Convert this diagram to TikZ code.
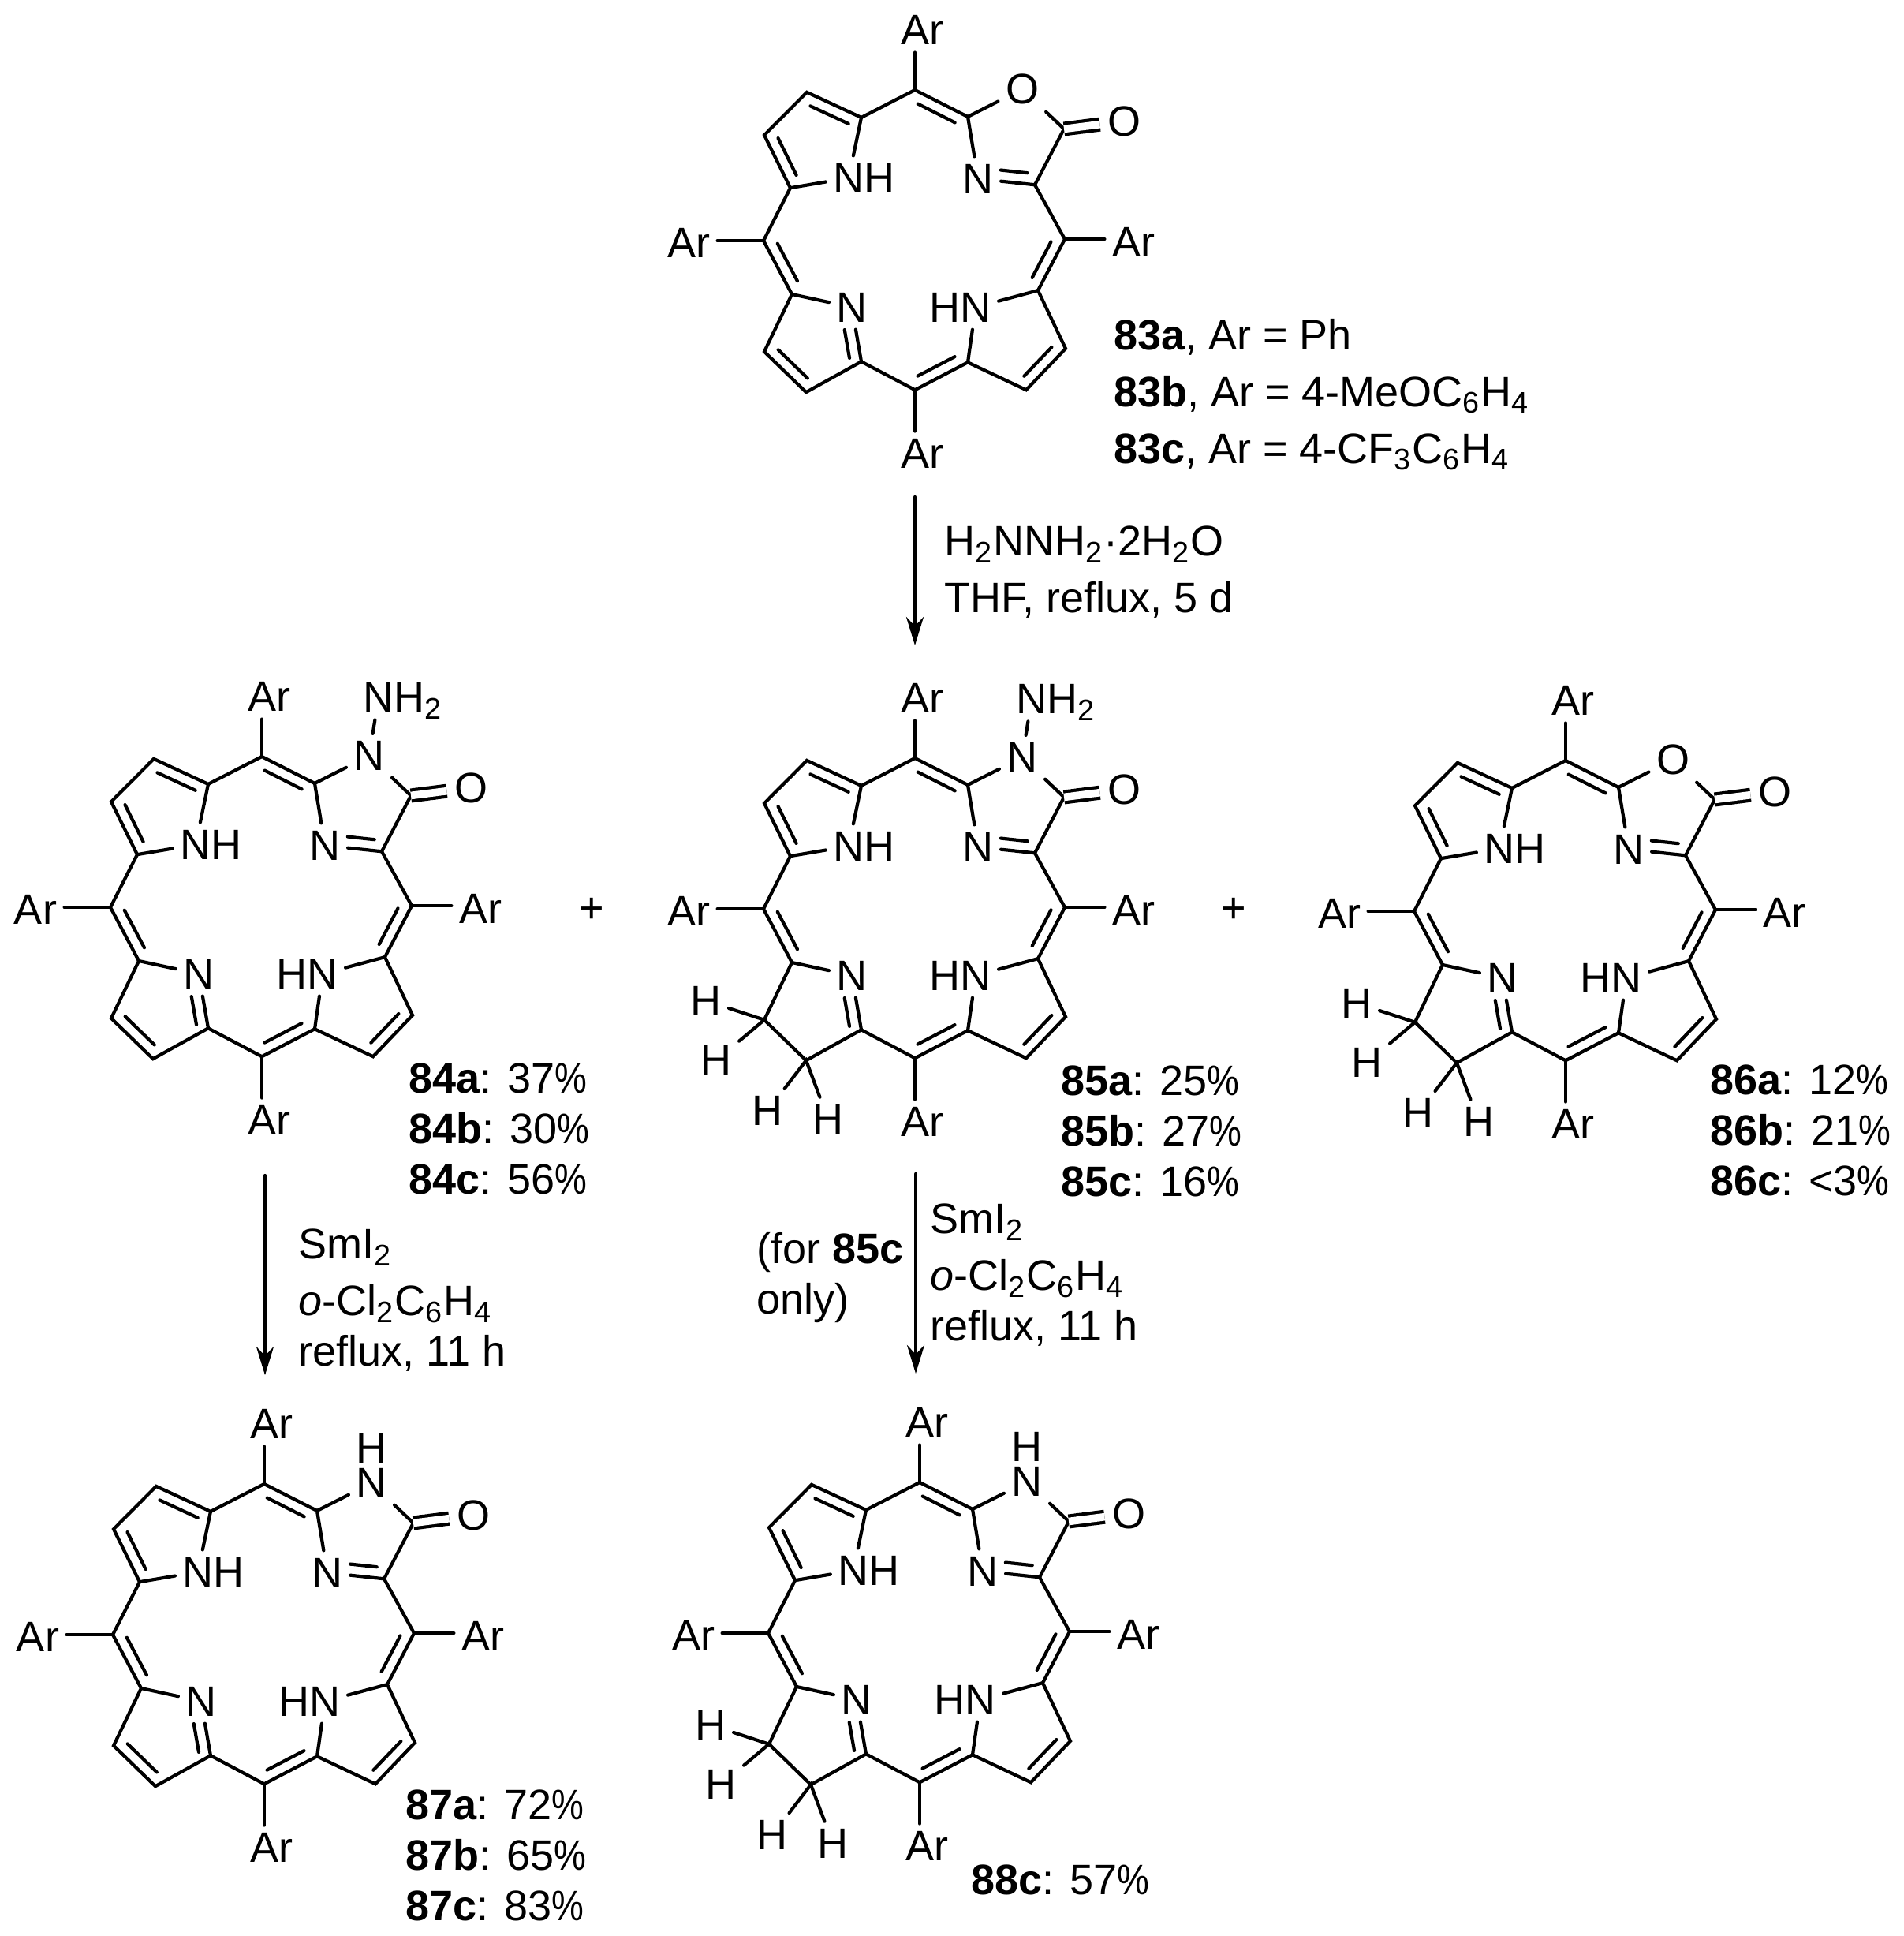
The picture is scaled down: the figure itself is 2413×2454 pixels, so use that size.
\documentclass[tikz,border=0pt]{standalone}
\usepackage{fontspec}
\setmainfont{Liberation Sans}
\usepackage{tikz}
\usetikzlibrary{calc,positioning,arrows.meta}
\tikzset{
  scheme/.style={x=0.25pt,y=-0.25pt,line width=1.05pt,line cap=round,
    every node/.style={font=\fontsize{13.5}{16}\selectfont}},
  molecule/.style={shift={#1},y=-0.2425pt},
  atom/.style={inner sep=0pt,outer sep=2.4pt},
  hafter/.style={atom,anchor=base west,at=(#1.base east),xshift=-4.8pt},
  hbefore/.style={atom,anchor=base east,at=(#1.base west),xshift=4.8pt},
  legend/.style={align=left,anchor=north west,inner sep=0pt},
  legendwide/.style={legend,font=\fontsize{13.5}{18}\selectfont},
  react/.style={-{Stealth[length=9pt,width=5.5pt]}},
  carbonyl/.style={double,double distance=2.4pt,line cap=butt}
}
\newcommand{\cpd}[1]{\textbf{#1}}
\newcommand{\pct}{\scalebox{.85}[1]{\%}}
\newcommand{\yield}[2]{\cpd{#1}: #2\pct}
% skeleton shared by all the macrocycles, #1 is the ring atom next to the carbonyl
\newcommand{\corering}[1]{
  \coordinate (mt) at (0,0);
  \coordinate (a1) at (-68,36);
  \coordinate (b1) at (-137,3);
  \coordinate (b2) at (-191,59);
  \coordinate (a2) at (-158,128);
  \coordinate (ml) at (-192,197);
  \coordinate (a3) at (-156,267);
  \coordinate (b3) at (-191,342);
  \coordinate (b4) at (-138,395);
  \coordinate (a4) at (-68,355);
  \coordinate (mb) at (0,392);
  \coordinate (a5) at (67,356);
  \coordinate (b5) at (141,392);
  \coordinate (b6) at (191,338);
  \coordinate (a6) at (156,262);
  \coordinate (mr) at (190,195);
  \coordinate (a7) at (152,124);
  \coordinate (a8) at (67,35);
  \coordinate (c1) at (189,51);
  \node[atom] (n1) at (-84,115) {N};
  \node[hafter=n1] (h1) {H};
  \node[atom] (n2) at (80,116) {N};
  \node[atom] (n3) at (-80,284) {N};
  \node[atom] (n4) at (77,284) {N};
  \node[hbefore=n4] (h4) {H};
  \node[atom] (x) at (136,-1) {#1};
  \node[atom] (oc) at (265,41) {O};
  \node[atom] (art) at (9,-78) {Ar};
  \node[atom] (arl) at (-287,200) {Ar};
  \node[atom] (arr) at (277,199) {Ar};
  \node[atom] (arb) at (9,475) {Ar};
  \draw (a7) -- (mr) -- (a6) -- (b6) -- (b5) -- (a5) -- (mb) -- (a4) -- (b4) -- (b3) -- (a3) -- (ml) -- (a2) -- (b2) -- (b1) -- (a1) -- (mt) -- (a8);
  \draw (n1) -- (a1);
  \draw (a2) -- (n1);
  \draw (a3) -- (n3) -- (a4);
  \draw (a6) -- (n4) -- (a5);
  \draw (a8) -- (n2) -- (a7) -- (c1) -- (x) -- (a8);
  \draw[carbonyl] (c1) -- (oc);
  \draw (mt) -- (mt |- art.south);
  \draw (mb) -- (mb |- arb.north);
  \draw (ml) -- (ml -| arl.east);
  \draw (mr) -- (mr -| arr.west);
  \foreach \p/\q/\f/\g in {b1/a1/.15/.15,a2/b2/.15/.15,mt/a8/.15/.15,a7/n2/.15/.38,a3/ml/.15/.15,mr/a6/.15/.15,n3/a4/.38/.1,a5/mb/.15/.15,b6/b5/.15/.15}
    \draw ($(\p)!\f!(\q)!3.5pt!-90:(\q)$) -- ($(\q)!\g!(\p)!3.5pt!90:(\p)$);
}
% the beta double bond of the unreduced ring
\newcommand{\betaene}{
  \draw ($(b4)!.15!(b3)!3.5pt!-90:(b3)$) -- ($(b3)!.15!(b4)!3.5pt!90:(b4)$);
}
\newcommand{\dihydro}{
  \node[atom] (hb1) at (-265,317) {H};
  \node[atom] (hb2) at (-252,395) {H};
  \node[atom] (hb3) at (-187,461) {H};
  \node[atom] (hb4) at (-110,472) {H};
  \draw (hb1) -- (b3) -- (hb2);
  \draw (hb3) -- (b4) -- (hb4);
}
\newcommand{\aminoN}{
  \node[atom] (na) at (148,-77) {N};
  \node[hafter=na] (ha) {H\textsubscript{2}};
  \draw (x) -- (na);
}
\begin{document}
\begin{tikzpicture}[scheme]
  \useasboundingbox (0,0) rectangle (2413,2454);

  \begin{scope}[molecule={(1160,114)},name prefix=s83-]
    \corering{O}
    \betaene
  \end{scope}
  \begin{scope}[molecule={(332,959)},name prefix=s84-]
    \corering{N}
    \betaene
    \aminoN
  \end{scope}
  \begin{scope}[molecule={(1160,961)},name prefix=s85-]
    \corering{N}
    \dihydro
    \aminoN
  \end{scope}
  \begin{scope}[molecule={(1985,964)},name prefix=s86-]
    \corering{O}
    \dihydro
  \end{scope}
  \begin{scope}[molecule={(335,1881)},name prefix=s87-]
    \corering{N}
    \betaene
    \node[atom] (hx) at (136,-47) {H};
  \end{scope}
  \begin{scope}[molecule={(1166,1879)},name prefix=s88-]
    \corering{N}
    \dihydro
    \node[atom] (hx) at (136,-47) {H};
  \end{scope}

  \node[legendwide] (lab83) at (1410,402) {\cpd{83a}, Ar = Ph\\\cpd{83b}, Ar = 4-MeOC\textsubscript{6}H\textsubscript{4}\\\cpd{83c}, Ar = 4-CF\textsubscript{3}C\textsubscript{6}H\textsubscript{4}};
  \node[legend] (lab84) at (516,1346) {\yield{84a}{37}\\\yield{84b}{30}\\\yield{84c}{56}};
  \node[legend] (lab85) at (1343,1349) {\yield{85a}{25}\\\yield{85b}{27}\\\yield{85c}{16}};
  \node[legend] (lab86) at (2166,1348) {\yield{86a}{12}\\\yield{86b}{21}\\\cpd{86c}: <3\pct};
  \node[legend] (lab87) at (512,2267) {\yield{87a}{72}\\\yield{87b}{65}\\\yield{87c}{83}};
  \node[legend] (lab88) at (1229,2362) {\yield{88c}{57}};

  \node[inner sep=0pt] (plus1) at (750,1154) {+};
  \node[inner sep=0pt] (plus2) at (1564,1154) {+};

  \coordinate (arr1a) at (1160,630);
  \coordinate (arr1b) at (1160,818);
  \coordinate (arr2a) at (336,1490);
  \coordinate (arr2b) at (336,1743);
  \coordinate (arr3a) at (1161,1488);
  \coordinate (arr3b) at (1161,1741);
  \draw[react] (arr1a) -- (arr1b);
  \draw[react] (arr2a) -- (arr2b);
  \draw[react] (arr3a) -- (arr3b);

  \node[legendwide] (cond1) at (1195,665) {H\textsubscript{2}NNH\textsubscript{2}·2H\textsubscript{2}O\\THF, reflux, 5 d};
  \node[legendwide] (cond2) at (376,1556) {SmI\textsubscript{2}\\\textit{o}-Cl\textsubscript{2}C\textsubscript{6}H\textsubscript{4}\\[-2pt]reflux, 11 h};
  \node[legendwide] (cond3) at (1177,1524) {SmI\textsubscript{2}\\\textit{o}-Cl\textsubscript{2}C\textsubscript{6}H\textsubscript{4}\\[-2pt]reflux, 11 h};
  \node[legend] (cond4) at (957,1560) {(for \cpd{85c}\\only)};
\end{tikzpicture}
\end{document}
